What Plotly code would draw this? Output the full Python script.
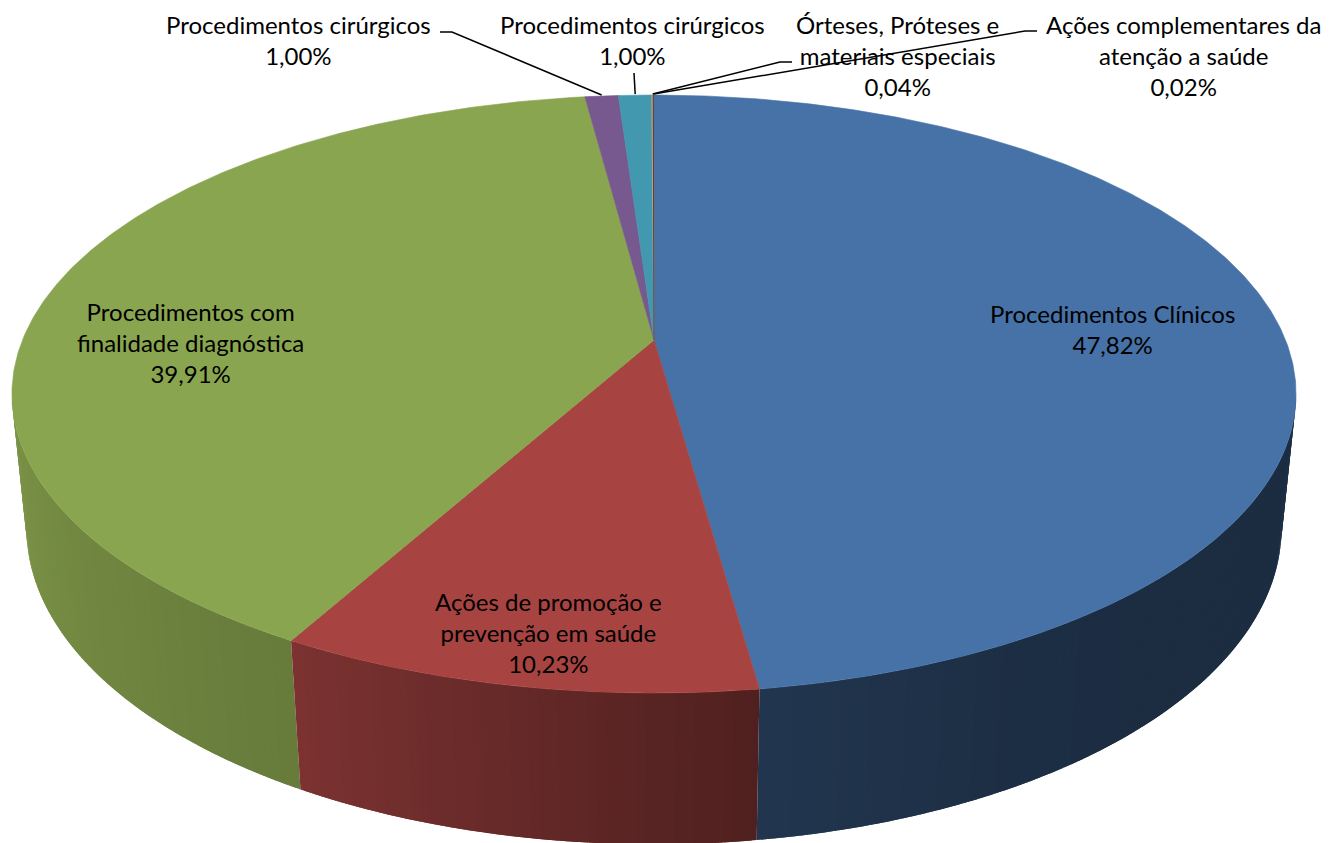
import numpy as np
import plotly.graph_objects as go

# ---------------- data ----------------
categories = [
    "Procedimentos Clínicos",
    "Ações de promoção e prevenção em saúde",
    "Procedimentos com finalidade diagnóstica",
    "Procedimentos cirúrgicos",
    "Procedimentos cirúrgicos",
    "Órteses, Próteses e materiais especiais",
    "Ações complementares da atenção a saúde",
]
values = [47.82, 10.23, 39.91, 1.00, 1.00, 0.04, 0.02]
label_text = [
    "Procedimentos Clínicos",
    "Ações de promoção e<br>prevenção em saúde",
    "Procedimentos com<br>finalidade diagnóstica",
    "Procedimentos cirúrgicos",
    "Procedimentos cirúrgicos",
    "Órteses, Próteses e<br>materiais especiais",
    "Ações complementares da<br>atenção a saúde",
]

# ---------------- style ----------------
top_colors = ["#4672A7", "#A74442", "#8AA54F", "#77598F", "#4198AF", "#F79646", "#2C4D75"]
# label block centres (pixels) and leader-line elbows (None = no leader)
label_pos = [(1112, 329), (548, 632), (190, 342), (298, 40), (632, 40), (897, 55), (1183, 55)]
leader_elbow = [None, None, None,
                [(440, 32), (452, 32)],
                [(634, 73)],
                [(792, 62), (780, 62)],
                [(1037, 31), (1025, 31)]]
FONT = "Lato"
FSIZE = 24

# 3D projection parameters (pixels)
CX, CY = 654.0, 340.0
F = 3107.0
D = 4.92
SA = 0.458
CA = np.sqrt(1 - SA ** 2)
T = 0.241


def proj(phi_deg, y, r=1.0):
    ph = np.radians(phi_deg)
    X = r * np.sin(ph)
    Z = -r * np.cos(ph)
    d = D - y * SA - Z * CA
    return CX + F * X / d, CY + F * (Z * SA - y * CA) / d


def shade(phi):
    return float(np.interp(phi, [95, 150, 172, 209, 257, 265],
                           [0.39, 0.40, 0.47, 0.745, 0.89, 0.89]))


def hex_scale(h, f):
    h = h.lstrip("#")
    r, g, b = (int(h[i:i + 2], 16) for i in (0, 2, 4))
    return "rgb(%d,%d,%d)" % (round(r * f), round(g * f), round(b * f))


total = sum(values)
cum = np.concatenate([[0], np.cumsum(values)]) / total * 360.0
starts, ends = cum[:-1], cum[1:]

fig = go.Figure()

# ---- side strips (front-facing part of the cylinder wall) ----
k = 1.0 / (D * CA)
lo = np.degrees(np.arccos(-k)) - 3
hi = 360 - lo
STEP = 0.75
strips = []
for i in range(len(values)):
    a0, a1 = max(starts[i], lo), min(ends[i], hi)
    if a1 <= a0:
        continue
    n = max(1, int(np.ceil((a1 - a0) / STEP)))
    edges = np.linspace(a0, a1, n + 1)
    for j in range(n):
        pa, pb = edges[j], edges[j + 1]
        mid = 0.5 * (pa + pb)
        # small overlap inside the same slice to hide seams
        pa2 = pa - 0.35 if j > 0 else pa
        pb2 = pb + 0.35 if j < n - 1 else pb
        strips.append((-np.cos(np.radians(mid)), i, pa2, pb2, mid))
strips.sort(key=lambda s: s[0])
for _, i, pa, pb, mid in strips:
    ang = np.linspace(pa, pb, 3)
    xt, yt = proj(ang, 0.0)
    xb, yb = proj(ang[::-1], -T)
    xs = np.concatenate([xt, xb, xt[:1]])
    ys = np.concatenate([yt, yb, yt[:1]])
    c = hex_scale(top_colors[i], shade(mid))
    fig.add_trace(go.Scatter(x=xs, y=ys, mode="lines", fill="toself", fillcolor=c,
                             line=dict(color=c, width=0), hoverinfo="skip", showlegend=False))

# ---- top face slices ----
for i in range(len(values)):
    n = max(2, int(np.ceil((ends[i] - starts[i]) / 0.5)) + 1)
    ang = np.linspace(starts[i], ends[i], n)
    xa, ya = proj(ang, 0.0)
    xs = np.concatenate([[CX], xa, [CX]])
    ys = np.concatenate([[CY], ya, [CY]])
    lw = 0.6 if values[i] > 0.5 else 1.2
    fig.add_trace(go.Scatter(x=xs, y=ys, mode="lines", fill="toself", fillcolor=top_colors[i],
                             line=dict(color=top_colors[i], width=lw), hoverinfo="text",
                             text=categories[i], showlegend=False))

# ---- leader lines ----
for i in range(len(values)):
    if leader_elbow[i] is None:
        continue
    mid = 0.5 * (starts[i] + ends[i])
    ex, ey = proj(mid, 0.0)
    pts = list(leader_elbow[i]) + [(float(ex), float(ey) - 1)]
    fig.add_trace(go.Scatter(x=[p[0] for p in pts], y=[p[1] for p in pts], mode="lines",
                             line=dict(color="black", width=1.5), hoverinfo="skip", showlegend=False))

# ---- labels ----
for i in range(len(values)):
    pct = ("%.2f" % values[i]).replace(".", ",") + "%"
    fig.add_annotation(x=label_pos[i][0], y=label_pos[i][1], xref="x", yref="y",
                       text=label_text[i] + "<br>" + pct, showarrow=False,
                       xanchor="center", yanchor="middle", align="center",
                       font=dict(family=FONT, size=FSIZE, color="black"))

fig.update_layout(
    width=1336, height=843,
    margin=dict(l=0, r=0, t=0, b=0),
    paper_bgcolor="white", plot_bgcolor="white",
    xaxis=dict(range=[0, 1336], visible=False, fixedrange=True),
    yaxis=dict(range=[843, 0], visible=False, fixedrange=True),
    showlegend=False,
)

fig.write_html("out.html", config={"displayModeBar": False},
               post_script="document.body.style.margin='0';document.body.style.overflow='hidden';")
